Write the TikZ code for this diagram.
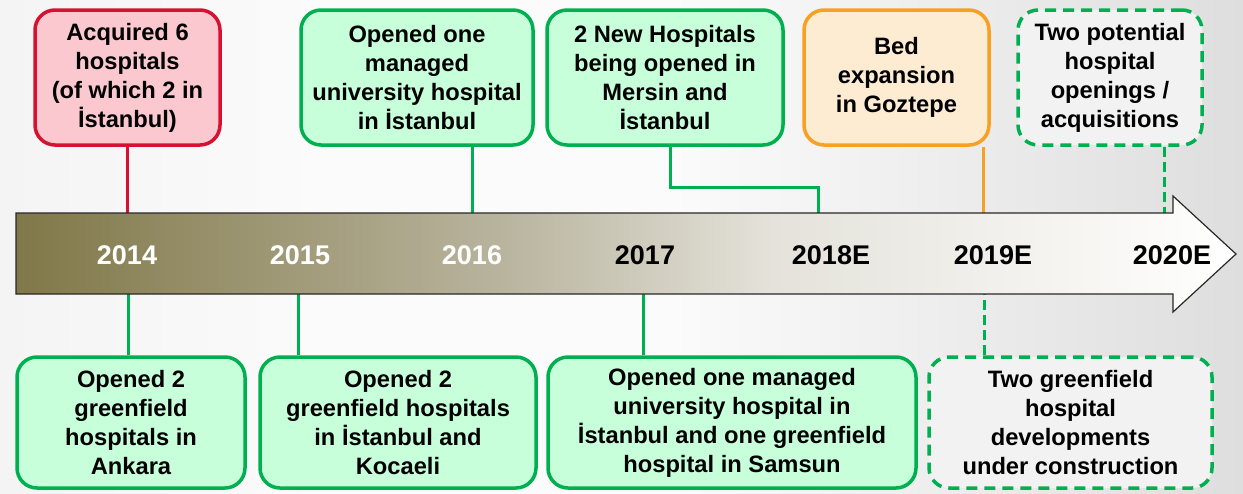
\documentclass[tikz,border=0pt]{standalone}
\usepackage{fontspec}
\setmainfont{Liberation Sans}
\definecolor{redb}{RGB}{214,18,50}
\definecolor{redf}{RGB}{252,200,208}
\definecolor{grnb}{RGB}{0,176,80}
\definecolor{grnf}{RGB}{198,255,218}
\definecolor{orab}{RGB}{247,160,33}
\definecolor{oraf}{RGB}{253,235,210}
\definecolor{dshf}{RGB}{242,242,242}
\definecolor{olv}{RGB}{128,120,72}
\definecolor{olvmid}{RGB}{185,180,158}
\definecolor{olvlt}{RGB}{228,226,218}
\definecolor{bga}{RGB}{244,244,244}
\definecolor{bgb}{RGB}{251,251,251}
\definecolor{bgc}{RGB}{222,222,222}
\definecolor{arrb}{RGB}{40,40,40}
\pgfdeclarehorizontalshading{arrowshade}{100bp}{color(0bp)=(olv); color(25bp)=(olv); color(45bp)=(olvmid); color(56bp)=(olvlt); color(75bp)=(white); color(100bp)=(white)}
\pgfdeclarehorizontalshading{bgshade}{100bp}{color(0bp)=(bga); color(25bp)=(bga); color(38bp)=(bgb); color(52bp)=(bgb); color(75bp)=(bgc); color(100bp)=(bgc)}
\newcommand{\hbfont}{\fontsize{23.7}{29}\selectfont\bfseries}
\newcommand{\hyfont}{\fontsize{27}{30}\selectfont\bfseries}
\begin{document}
\begin{tikzpicture}[x=1pt,y=-1pt,
  box/.style={rectangle, rounded corners=20pt, line width=3.5pt, inner sep=0pt, align=center, font=\hbfont, text=black, minimum height=135pt},
  redbox/.style={box, draw=redb, fill=redf},
  grnbox/.style={box, draw=grnb, fill=grnf},
  orabox/.style={box, draw=orab, fill=oraf},
  dshbox/.style={box, draw=grnb, fill=dshf, dash pattern=on 11pt off 7pt},
  conn/.style={line width=3pt},
  dconn/.style={line width=3pt, dash pattern=on 10pt off 5pt},
  year/.style={font=\hyfont, inner sep=0pt, anchor=center}
]
\useasboundingbox (0,0) rectangle (1243,493);
\shade[shading=bgshade] (0,0) rectangle (1243,493);

% coordinates on the arrow edges
\coordinate (a14) at (127,213);
\coordinate (a16) at (472,213);
\coordinate (a18) at (818,213);
\coordinate (e18) at (670,187);
\coordinate (a19) at (983,213);
\coordinate (a20) at (1164,213);
\coordinate (c14) at (128,294);
\coordinate (c15) at (298,294);
\coordinate (c17) at (643,294);
\coordinate (c19) at (984,294);

% boxes top
\node[redbox, minimum width=185pt] (t14) at (127.5,77.5) {Acquired 6\\hospitals\\(of which 2 in\\İstanbul)};
\node[grnbox, minimum width=232pt] (t16) at (417,77.5) {Opened one\\managed\\university hospital\\in İstanbul};
\node[grnbox, minimum width=236pt] (t18) at (665,77.5) {2 New Hospitals\\being opened in\\Mersin and\\İstanbul};
\node[orabox, minimum width=185pt] (t19) at (896.5,77.5) {Bed\\expansion\\in Goztepe};
\node[dshbox, minimum width=184pt] (t20) at (1110,77.5) {Two potential\\hospital\\openings /\\acquisitions};

% boxes bottom
\node[grnbox, minimum width=228pt, minimum height=131pt] (b14) at (131,422.5) {Opened 2\\greenfield\\hospitals in\\Ankara};
\node[grnbox, minimum width=276pt, minimum height=131pt] (b15) at (398,422.5) {Opened 2\\greenfield hospitals\\in İstanbul and\\Kocaeli};
\node[grnbox, minimum width=368pt, minimum height=131pt] (b17) at (732,422.5) {Opened one managed\\university hospital in\\İstanbul and one greenfield\\hospital in Samsun};
\node[dshbox, minimum width=283pt, minimum height=131pt] (b19) at (1070.5,422.5) {Two greenfield\\hospital\\developments\\under construction};

% connectors (behind boxes)
\begin{scope}[on background layer/.style={}]
\end{scope}
\draw[conn, draw=redb] (t14.south -| a14) -- (a14);
\draw[conn, draw=grnb] (t16.south -| a16) -- (a16);
\draw[conn, draw=grnb] (t18.south -| e18) -- (e18) -| (a18);
\draw[conn, draw=orab] (t19.south -| a19) -- (a19);
\draw[dconn, draw=grnb] (t20.south -| a20) -- (a20);
\draw[conn, draw=grnb] (b14.north -| c14) -- (c14);
\draw[conn, draw=grnb] (b15.north -| c15) -- (c15);
\draw[conn, draw=grnb] (b17.north -| c17) -- (c17);
\draw[dconn, draw=grnb] (b19.north -| c19) -- (c19);

% arrow
\draw[draw=arrb, line width=1.2pt, shading=arrowshade]
  (16,213) -- (1173,213) -- (1173,196) -- (1236,254) -- (1173,312) -- (1173,294) -- (16,294) -- cycle;

% year labels
\node[year, text=white] (y14) at (127,255) {2014};
\node[year, text=white] (y15) at (300,255) {2015};
\node[year, text=white] (y16) at (472,255) {2016};
\node[year, text=black] (y17) at (645,255) {2017};
\node[year, text=black] (y18) at (831,255) {2018E};
\node[year, text=black] (y19) at (993,255) {2019E};
\node[year, text=black] (y20) at (1172,255) {2020E};
\end{tikzpicture}
\end{document}
